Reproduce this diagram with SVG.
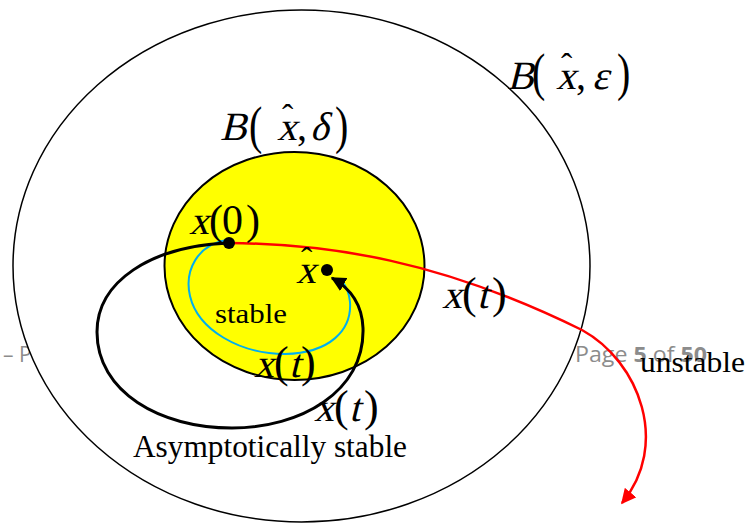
<svg xmlns="http://www.w3.org/2000/svg" width="749" height="525" viewBox="0 0 749 525">
<style>
.s{font-family:"Liberation Serif","Times New Roman",serif;font-style:normal;fill:#000}
.r{font-family:"Liberation Serif","Times New Roman",serif;font-style:normal;fill:#000}
.foot{font-family:"Open Sans","Liberation Sans",sans-serif;fill:#8c8c8c}
.lbl{font-family:"Liberation Serif","Times New Roman",serif;fill:#000}
</style>
<defs>
<marker id="ab" viewBox="0 0 10 10" refX="9" refY="5" markerWidth="5" markerHeight="5" orient="auto" markerUnits="strokeWidth"><path d="M0,0 L10,5 L0,10 z" fill="#000"/></marker>
<marker id="ar" viewBox="0 0 10 10" refX="9" refY="5" markerWidth="6" markerHeight="6" orient="auto" markerUnits="strokeWidth"><path d="M0,0 L10,5 L0,10 z" fill="#ff0000"/></marker>
</defs>
<rect width="749" height="525" fill="#fff"/>
<g id="footer">
<text class="foot" x="3" y="362" font-size="21">– P</text>
<text class="foot" x="575" y="362" font-size="21" textLength="132" lengthAdjust="spacingAndGlyphs">Page <tspan font-weight="bold">5</tspan> of <tspan font-weight="bold">50</tspan></text>
</g>
<g id="ball-eps">
<ellipse cx="301.5" cy="266" rx="288.5" ry="256" fill="#fff" stroke="#000" stroke-width="1.5"/>
<text class="s" transform="translate(507,89) skewX(-14)" font-size="40">B</text>
<text class="r" transform="translate(532,90) scale(1,1.3)" font-size="40">(</text>
<text class="s" transform="translate(556,89) skewX(-14)" font-size="40">x</text>
<text class="r" x="561" y="77" font-size="34">ˆ</text>
<text class="r" x="576" y="89" font-size="40">,</text>
<text class="s" transform="translate(592,89) skewX(-14)" font-size="40">ε</text>
<text class="r" transform="translate(617,90) scale(1,1.3)" font-size="40">)</text>
</g>
<g id="ball-delta">
<ellipse cx="294.5" cy="266" rx="130" ry="114" fill="#ffff00" stroke="#000" stroke-width="2"/>
<text class="s" transform="translate(220,140) skewX(-14)" font-size="40">B</text>
<text class="r" transform="translate(249,143) scale(1,1.3)" font-size="40">(</text>
<text class="s" transform="translate(277,140) skewX(-14)" font-size="40">x</text>
<text class="r" x="282" y="128" font-size="34">ˆ</text>
<text class="r" x="297" y="140" font-size="40">,</text>
<text class="s" transform="translate(310,140) skewX(-14)" font-size="40">δ</text>
<text class="r" transform="translate(335,143) scale(1,1.3)" font-size="40">)</text>
</g>
<g id="connectors">
<path id="stable-path" d="M226,240 C198,245 184,270 190,296 C198,330 240,354 285,354 C330,353 352,330 350,302 C349,292 346,286 342,281" fill="none" stroke="#00aeef" stroke-width="2"/>
<path id="asym-path" d="M229,243 C150,246 97,282 97,332 C97,392 160,428 232,428 C300,428 365,392 363,328 C362,303 350,288 332,278" fill="none" stroke="#000" stroke-width="3" marker-end="url(#ab)"/>
<path id="unstable-path" d="M229,243 C330,244 440,260 582,330 C640,362 670,445 622,503" fill="none" stroke="#ff0000" stroke-width="2.5" marker-end="url(#ar)"/>
</g>
<g id="x0">
<circle cx="229" cy="243" r="6" fill="#000"/>
<text class="s" transform="translate(189,234) skewX(-14)" font-size="40">x</text>
<text class="r" x="209" y="234" font-size="42">(<tspan x="222">0</tspan><tspan x="246">)</tspan></text>
</g>
<g id="xhat">
<circle cx="327" cy="270" r="6" fill="#000"/>
<text class="s" transform="translate(296,283) skewX(-14)" font-size="40">x</text>
<text class="r" x="301" y="271" font-size="34">ˆ</text>
</g>
<g id="labels">
<text class="lbl" x="215" y="323" font-size="28" textLength="72" lengthAdjust="spacingAndGlyphs">stable</text>
<text class="lbl" x="133" y="457" font-size="31" textLength="274" lengthAdjust="spacingAndGlyphs">Asymptotically stable</text>
<text class="lbl" x="640" y="372" font-size="30" textLength="105" lengthAdjust="spacingAndGlyphs">unstable</text>
<text class="s" transform="translate(442,308) skewX(-14)" font-size="40">x</text>
<text class="r" x="462" y="308" font-size="44">(</text>
<text class="s" transform="translate(477,308) skewX(-14)" font-size="40">t</text>
<text class="r" x="492" y="308" font-size="44">)</text>
<text class="s" transform="translate(254,377) skewX(-14)" font-size="40">x</text>
<text class="r" x="274" y="377" font-size="44">(</text>
<text class="s" transform="translate(289,377) skewX(-14)" font-size="40">t</text>
<text class="r" x="301" y="377" font-size="44">)</text>
<text class="s" transform="translate(314,421) skewX(-14)" font-size="40">x</text>
<text class="r" x="334" y="421" font-size="44">(</text>
<text class="s" transform="translate(349,421) skewX(-14)" font-size="40">t</text>
<text class="r" x="364" y="421" font-size="44">)</text>
</g>
</svg>
